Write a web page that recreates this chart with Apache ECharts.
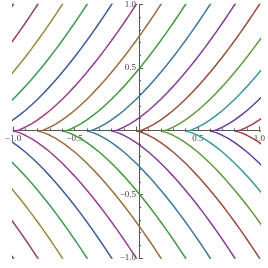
<!DOCTYPE html>
<html>
<head>
<meta charset="utf-8">
<script src="https://cdn.jsdelivr.net/npm/echarts@6/dist/echarts.min.js"></script>
<style>
  html, body { margin: 0; padding: 0; background: #fff; }
  #chart { width: 268px; height: 268px; }
</style>
</head>
<body>
<div id="chart"></div>
<script>
    // cusp positions of the curves on the x axis
    const cuspX = [-2.0, -1.8, -1.6, -1.4, -1.2, -1.0, -0.8, -0.6, -0.4, -0.2, 0.0, 0.2, 0.4, 0.6, 0.8, 1.0];

    // one branch: distance from the cusp -> height
    const shapeU = [0, 0.02, 0.05, 0.1, 0.15, 0.2, 0.25, 0.3, 0.35, 0.4, 0.45, 0.5, 0.55,
        0.6, 0.65, 0.7, 0.75, 0.8, 0.85, 0.9, 0.95, 1.0, 1.05];
    const shapeY = [0, 0.003, 0.011, 0.032, 0.058, 0.089, 0.125, 0.164, 0.207, 0.253, 0.302, 0.354, 0.408,
        0.465, 0.524, 0.586, 0.65, 0.716, 0.784, 0.854, 0.926, 1.0, 1.076];

    const curveColors = ['#3f3d99', '#993d71', '#998b3d', '#3d9956', '#3d5a99', '#993d90', '#996d3d', '#43993d',
        '#3d7999', '#843d99', '#994e3d', '#62993d', '#3d9799', '#653d99', '#993d4b', '#80993d'];

    const xTicks = [-1.0, -0.5, 0.5, 1.0];
    const yTicks = [-1.0, -0.5, 0.5, 1.0];

    const labelFont = '"Liberation Serif", "DejaVu Serif", serif';

    const W = 268, H = 268;
    const grid = { left: 13, right: 3, top: 3, bottom: 10 };
    // axes cross at the origin, which is the middle of the symmetric range
    const xAxisShift = -(H - grid.top - grid.bottom) / 2;
    const yAxisShift = -(W - grid.left - grid.right) / 2;

    function tickText(v) {
        const r = Math.round(v * 10) / 10;
        if (r === 0) return '';
        return r.toFixed(1).replace('-', '\u2212');
    }

    const series = [];
    cuspX.forEach((c, i) => {
        [1, -1].forEach((sign) => {
            series.push({
                type: 'line',
                data: shapeU.map((u, k) => [c + u, sign * shapeY[k]]),
                showSymbol: false,
                silent: true,
                clip: true,
                lineStyle: { color: curveColors[i], width: 1.5 },
            });
        });
    });

    const axisColor = '#555';

    const chart = echarts.init(document.getElementById('chart'));
    chart.setOption({
        animation: false,
        backgroundColor: '#fff',
        grid: grid,
        xAxis: {
            type: 'value',
            min: -1, max: 1, interval: 0.5,
            offset: xAxisShift,
            axisLine: { onZero: false, lineStyle: { color: axisColor, width: 1 } },
            axisTick: { inside: true, length: 4, lineStyle: { color: axisColor } },
            minorTick: { show: true, splitNumber: 5, length: 2, lineStyle: { color: axisColor } },
            splitLine: { show: false },
            axisLabel: {
                margin: 4, fontSize: 9, color: '#444', fontFamily: labelFont,
                showMinLabel: true, showMaxLabel: true, hideOverlap: false,
                formatter: (v) => (xTicks.some((t) => Math.abs(t - v) < 1e-6) ? tickText(v) : ''),
            },
        },
        yAxis: {
            type: 'value',
            min: -1, max: 1, interval: 0.5,
            offset: yAxisShift,
            axisLine: { onZero: false, lineStyle: { color: axisColor, width: 1 } },
            axisTick: { inside: true, length: 4, lineStyle: { color: axisColor } },
            minorTick: { show: true, splitNumber: 5, length: 2, lineStyle: { color: axisColor } },
            splitLine: { show: false },
            axisLabel: {
                margin: 3, fontSize: 9, color: '#444', fontFamily: labelFont,
                showMinLabel: true, showMaxLabel: true, hideOverlap: false,
                formatter: (v) => (yTicks.some((t) => Math.abs(t - v) < 1e-6) ? tickText(v) : ''),
            },
        },
        series: series,
    });
</script>
</body>
</html>
